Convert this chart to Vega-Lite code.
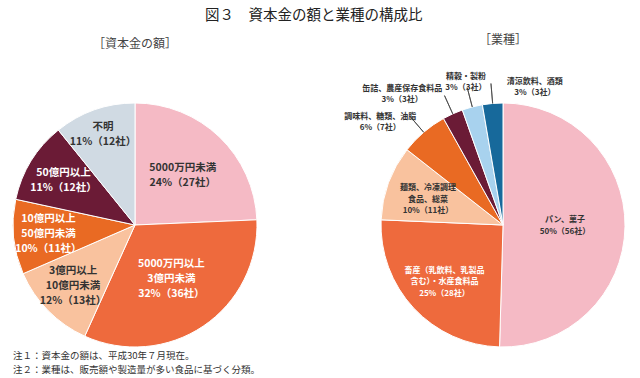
{
  "$schema": "https://vega.github.io/schema/vega-lite/v6.json",
  "background": "white",
  "padding": {"top": 8, "left": 0, "right": 0, "bottom": 0},
  "title": {"text": "図３　資本金の額と業種の構成比", "fontSize": 14.5, "fontWeight": "normal", "color": "#222", "font": "Noto Sans CJK JP", "anchor": "start", "dx": 205, "offset": 10},
  "config": {
    "view": {"stroke": null},
    "font": "Noto Sans CJK JP",
    "title": {"font": "Noto Sans CJK JP"}
  },
  "datasets": {
    "capital": [
      {"k": "5000万円未満", "n": 27, "o": 1, "lab": "5000万円未満\n24%（27社）"},
      {"k": "5000万円以上3億円未満", "n": 36, "o": 2, "lab": "5000万円以上\n3億円未満\n32%（36社）"},
      {"k": "3億円以上10億円未満", "n": 13, "o": 3, "lab": "3億円以上\n10億円未満\n12%（13社）"},
      {"k": "10億円以上50億円未満", "n": 11, "o": 4, "lab": "10億円以上\n50億円未満\n10%（11社）"},
      {"k": "50億円以上", "n": 12, "o": 5, "lab": "50億円以上\n11%（12社）"},
      {"k": "不明", "n": 12, "o": 6, "lab": "不明\n11%（12社）"}
    ],
    "industry": [
      {"k": "パン、菓子", "n": 56, "o": 1, "lab": "パン、菓子\n50%（56社）"},
      {"k": "畜産・水産食料品", "n": 28, "o": 2, "lab": "畜産（乳飲料、乳製品\n含む）・水産食料品\n25%（28社）"},
      {"k": "麺類、冷凍調理食品、総菜", "n": 11, "o": 3, "lab": "麺類、冷凍調理\n食品、総菜\n10%（11社）"},
      {"k": "調味料、糖類、油脂", "n": 7, "o": 4, "lab": "調味料、糖類、油脂\n6%（7社）"},
      {"k": "缶詰、農産保存食料品", "n": 3, "o": 5, "lab": "缶詰、農産保存食料品\n3%（3社）"},
      {"k": "精穀・製粉", "n": 3, "o": 6, "lab": "精穀・製粉\n3%（3社）"},
      {"k": "清涼飲料、酒類", "n": 3, "o": 7, "lab": "清涼飲料、酒類\n3%（3社）"}
    ],
    "notes": [
      {"i": 1, "t": "注１：資本金の額は、平成30年７月現在。"},
      {"i": 2, "t": "注２：業種は、販売額や製造量が多い食品に基づく分類。"}
    ]
  },
  "vconcat": [
    {
      "bounds": "flush",
      "resolve": {"scale": {"color": "independent", "theta": "independent"}},
      "hconcat": [
        {
          "width": 270,
          "height": 244,
          "title": {"text": "［資本金の額］", "fontSize": 12, "fontWeight": "normal", "color": "#444", "offset": 50, "frame": "group"},
          "data": {"name": "capital"},
          "encoding": {
            "theta": {"field": "n", "type": "quantitative", "stack": true},
            "order": {"field": "o", "type": "quantitative"}
          },
          "layer": [
            {
              "mark": {"type": "arc", "radius": 122, "stroke": "white", "strokeWidth": 1},
              "encoding": {
                "color": {"field": "k", "type": "nominal", "legend": null,
                  "scale": {"domain": ["5000万円未満", "5000万円以上3億円未満", "3億円以上10億円未満", "10億円以上50億円未満", "50億円以上", "不明"],
                            "range": ["#F5BAC5", "#EE6A3D", "#F9C29E", "#E96A23", "#6B1B36", "#D0DAE3"]}}
              }
            },
            {
              "mark": {"type": "text", "radius": 69, "dy": -7.5, "fontSize": 10.5, "fontWeight": "bold", "lineBreak": "\n", "lineHeight": 15, "align": "center", "baseline": "middle", "color": "#333"},
              "encoding": {"text": {"condition": {"test": "datum.k == '5000万円未満'", "field": "lab"}, "value": ""}}
            },
            {
              "mark": {"type": "text", "radius": 65, "dy": -15, "fontSize": 10.5, "fontWeight": "bold", "lineBreak": "\n", "lineHeight": 15, "align": "center", "baseline": "middle", "color": "white"},
              "encoding": {"text": {"condition": {"test": "datum.k == '5000万円以上3億円未満'", "field": "lab"}, "value": ""}}
            },
            {
              "mark": {"type": "text", "radius": 87, "dy": -15, "fontSize": 10.5, "fontWeight": "bold", "lineBreak": "\n", "lineHeight": 15, "align": "center", "baseline": "middle"},
              "encoding": {
                "text": {"condition": {"test": "datum.k == '3億円以上10億円未満' || datum.k == '10億円以上50億円未満'", "field": "lab"}, "value": ""},
                "color": {"condition": {"test": "datum.k == '10億円以上50億円未満'", "value": "white"}, "value": "#333"}
              }
            },
            {
              "mark": {"type": "text", "radius": 84, "dy": -7.5, "fontSize": 10.5, "fontWeight": "bold", "lineBreak": "\n", "lineHeight": 15, "align": "center", "baseline": "middle", "color": "white"},
              "encoding": {"text": {"condition": {"test": "datum.k == '50億円以上'", "field": "lab"}, "value": ""}}
            },
            {
              "mark": {"type": "text", "radius": 96, "dy": -7.5, "fontSize": 10.5, "fontWeight": "bold", "lineBreak": "\n", "lineHeight": 15, "align": "center", "baseline": "middle", "color": "#333"},
              "encoding": {"text": {"condition": {"test": "datum.k == '不明'", "field": "lab"}, "value": ""}}
            }
          ]
        },
        {
          "width": 270,
          "height": 244,
          "title": {"text": "［業種］", "fontSize": 12, "fontWeight": "normal", "color": "#444", "offset": 22, "frame": "group"},
          "data": {"name": "industry"},
          "encoding": {
            "theta": {"field": "n", "type": "quantitative", "stack": true},
            "order": {"field": "o", "type": "quantitative"}
          },
          "layer": [
            {
              "mark": {"type": "arc", "radius": 122, "stroke": "white", "strokeWidth": 1},
              "encoding": {
                "color": {"field": "k", "type": "nominal", "legend": null,
                  "scale": {"domain": ["パン、菓子", "畜産・水産食料品", "麺類、冷凍調理食品、総菜", "調味料、糖類、油脂", "缶詰、農産保存食料品", "精穀・製粉", "清涼飲料、酒類"],
                            "range": ["#F5BAC5", "#EE6A3D", "#F9C29E", "#E96A23", "#6B1B36", "#A8D2EE", "#17699B"]}}
              }
            },
            {
              "mark": {"type": "arc", "radius": 142, "radius2": 122, "padAngle": 1.2, "fill": null, "stroke": "#444", "strokeWidth": 0.8},
              "encoding": {
                "strokeOpacity": {"condition": {"test": "datum.n <= 7", "value": 1}, "value": 0}
              }
            },
            {
              "mark": {"type": "text", "radius": 62, "dy": -5.75, "fontSize": 8, "fontWeight": "bold", "lineBreak": "\n", "lineHeight": 11.5, "align": "center", "baseline": "middle", "color": "#333"},
              "encoding": {"text": {"condition": {"test": "datum.n == 56", "field": "lab"}, "value": ""}}
            },
            {
              "mark": {"type": "text", "radius": 80, "dy": -9, "fontSize": 8, "fontWeight": "bold", "lineBreak": "\n", "lineHeight": 11.5, "align": "center", "baseline": "middle"},
              "encoding": {
                "text": {"condition": {"test": "datum.n == 28 || datum.n == 11", "field": "lab"}, "value": ""},
                "color": {"condition": {"test": "datum.n == 28", "value": "white"}, "value": "#333"}
              }
            },
            {
              "mark": {"type": "text", "radius": 155, "dx": -22, "dy": 10, "fontSize": 8, "fontWeight": "bold", "lineBreak": "\n", "lineHeight": 11, "align": "center", "baseline": "middle", "color": "#333"},
              "encoding": {"text": {"condition": {"test": "datum.k == '調味料、糖類、油脂'", "field": "lab"}, "value": ""}}
            },
            {
              "mark": {"type": "text", "radius": 155, "dx": -37, "dy": 5, "fontSize": 8, "fontWeight": "bold", "lineBreak": "\n", "lineHeight": 11, "align": "center", "baseline": "middle", "color": "#333"},
              "encoding": {"text": {"condition": {"test": "datum.k == '缶詰、農産保存食料品'", "field": "lab"}, "value": ""}}
            },
            {
              "mark": {"type": "text", "radius": 155, "dx": 2, "dy": 2, "fontSize": 8, "fontWeight": "bold", "lineBreak": "\n", "lineHeight": 11, "align": "center", "baseline": "middle", "color": "#333"},
              "encoding": {"text": {"condition": {"test": "datum.k == '精穀・製粉'", "field": "lab"}, "value": ""}}
            },
            {
              "mark": {"type": "text", "radius": 155, "dx": 45, "dy": 11, "fontSize": 8, "fontWeight": "bold", "lineBreak": "\n", "lineHeight": 11, "align": "center", "baseline": "middle", "color": "#333"},
              "encoding": {"text": {"condition": {"test": "datum.k == '清涼飲料、酒類'", "field": "lab"}, "value": ""}}
            }
          ]
        }
      ],
      "spacing": 98
    },
    {
      "width": 320,
      "height": 28,
      "data": {"name": "notes"},
      "mark": {"type": "text", "align": "left", "baseline": "middle", "fontSize": 9.5, "color": "#333", "dx": 13},
      "encoding": {
        "x": {"value": 0},
        "y": {"field": "i", "type": "ordinal", "axis": null},
        "text": {"field": "t"}
      }
    }
  ],
  "spacing": 0
}
